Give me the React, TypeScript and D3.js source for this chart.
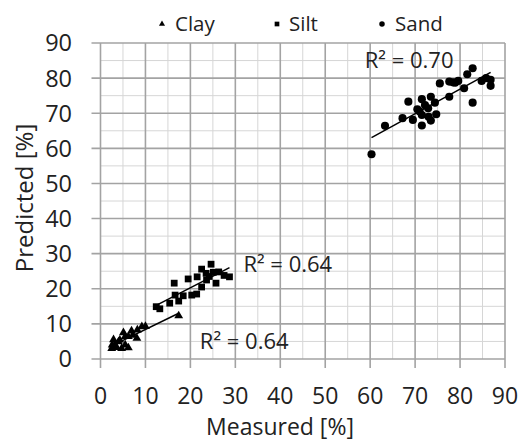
import React from "react";
import * as d3 from "d3";

// ---- data ----
const seriesNames = ["Clay", "Silt", "Sand"];

const clayX = [2.5, 2.6, 2.9, 3.2, 3.6, 4.0, 4.3, 4.7, 5.1, 5.5, 5.5, 6.2, 6.2, 6.9, 7.2, 8.1, 8.2, 9.2, 10.0, 17.4];
const clayY = [3.0, 4.0, 5.5, 4.0, 3.3, 4.9, 5.4, 3.0, 7.5, 4.0, 6.4, 3.2, 6.4, 8.0, 6.8, 5.9, 8.3, 9.2, 9.3, 12.3];

const siltX = [12.4, 13.2, 15.4, 16.4, 16.6, 17.4, 18.4, 19.5, 20.3, 21.4, 21.5, 22.5, 23.5, 23.6, 24.6, 25.1, 25.7, 26.3, 27.5, 28.7, 22.5, 24.2];
const siltY = [14.9, 14.3, 15.9, 21.6, 18.2, 16.5, 18.0, 22.8, 18.2, 18.5, 23.4, 25.6, 24.4, 22.5, 27.0, 24.7, 21.6, 24.8, 23.8, 23.4, 20.5, 23.5];

const sandX = [60.3, 63.3, 67.2, 68.5, 69.5, 70.5, 71.5, 71.5, 71.5, 72.2, 72.9, 73.5, 73.5, 74.4, 74.7, 75.5, 77.6, 77.6, 78.4, 78.9, 79.6, 80.9, 81.6, 82.8, 82.8, 84.8, 85.8, 86.8, 86.8, 71.0, 73.0];
const sandY = [58.3, 66.4, 68.6, 73.3, 68.1, 71.1, 74.0, 69.5, 66.5, 72.3, 71.4, 74.7, 67.9, 73.0, 69.7, 78.5, 74.7, 79.0, 78.8, 78.7, 79.2, 77.1, 81.1, 82.8, 73.0, 79.2, 80.0, 79.5, 77.8, 70.5, 69.0];

const r2Labels = ["R² = 0.64", "R² = 0.64", "R² = 0.70"];

const xTicks = [0, 10, 20, 30, 40, 50, 60, 70, 80, 90];
const yTicks = [0, 10, 20, 30, 40, 50, 60, 70, 80, 90];
const minorTicks = [5, 15, 25, 35, 45, 55, 65, 75, 85];

const xTitle = "Measured [%]";
const yTitle = "Predicted [%]";

// ---- layout ----
const W = 531;
const H = 442;
const PL = 100.5, PR = 505, PT = 43, PB = 359;
// label anchors in data units
const labelPos = [
  [22.1, 2.8],
  [31.8, 24.7],
  [58.8, 82.9],
];
const FONT = "'Open Sans', 'Noto Sans', sans-serif";
const TXT = "#222";

function regress(xs: number[], ys: number[]) {
  const mx = d3.mean(xs)!;
  const my = d3.mean(ys)!;
  let sxy = 0, sxx = 0;
  xs.forEach((x, i) => {
    sxy += (x - mx) * (ys[i] - my);
    sxx += (x - mx) * (x - mx);
  });
  const b = sxy / sxx;
  const a = my - b * mx;
  return { a, b, x0: d3.min(xs)!, x1: d3.max(xs)! };
}

export default function App() {
  const x = d3.scaleLinear().domain([0, 90]).range([PL, PR]);
  const y = d3.scaleLinear().domain([0, 90]).range([PB, PT]);

  const series = [
    { xs: clayX, ys: clayY, sym: d3.symbolTriangle, size: 34 },
    { xs: siltX, ys: siltY, sym: d3.symbolSquare, size: 46 },
    { xs: sandX, ys: sandY, sym: d3.symbolCircle, size: 52 },
  ];
  const legendSym = [
    { sym: d3.symbolTriangle, size: 16, x: 162, tx: 175 },
    { sym: d3.symbolSquare, size: 22, x: 277, tx: 289 },
    { sym: d3.symbolCircle, size: 24, x: 382, tx: 395 },
  ];

  return (
    <svg width={W} height={H} style={{ position: "absolute", left: 0, top: 0, background: "#fff" }}>
      <rect x={0} y={0} width={W} height={H} fill="#fff" />
      {/* minor grid */}
      <g stroke="#d6d6d6" strokeWidth={1}>
        {minorTicks.map((t) => (
          <line key={"mx" + t} x1={x(t)} x2={x(t)} y1={PT} y2={PB} />
        ))}
        {minorTicks.map((t) => (
          <line key={"my" + t} x1={PL} x2={PR} y1={y(t)} y2={y(t)} />
        ))}
      </g>
      {/* major grid */}
      <g stroke="#a3a3a3" strokeWidth={1.6}>
        {xTicks.map((t) => (
          <line key={"Mx" + t} x1={x(t)} x2={x(t)} y1={PT} y2={PB + 9} />
        ))}
        {yTicks.map((t) => (
          <line key={"My" + t} x1={PL - 9} x2={PR} y1={y(t)} y2={y(t)} />
        ))}
      </g>
      {/* tick labels */}
      <g fontFamily={FONT} fontSize={23.5} fill={TXT}>
        {yTicks.map((t) => (
          <text key={"yl" + t} x={72} y={y(t)} dy="0.36em" textAnchor="end">
            {t}
          </text>
        ))}
      </g>
      <g fontFamily={FONT} fontSize={23} fill={TXT}>
        {xTicks.map((t) => (
          <text key={"xl" + t} x={x(t)} y={403.5} textAnchor="middle">
            {t}
          </text>
        ))}
      </g>
      <g fontFamily={FONT} fontSize={23} fill={TXT}>
        <text x={280} y={435} textAnchor="middle">
          {xTitle}
        </text>
      </g>
      <g fontFamily={FONT} fontSize={24} fill={TXT}>
        <text transform={`translate(33,198) rotate(-90)`} textAnchor="middle">
          {yTitle}
        </text>
      </g>
      {/* legend */}
      <g fontFamily={FONT} fontSize={20.5} fill={TXT}>
        {seriesNames.map((n, i) => (
          <g key={n}>
            <path
              d={d3.symbol(legendSym[i].sym, legendSym[i].size)() || ""}
              transform={`translate(${legendSym[i].x},${24})`}
              fill="#000"
            />
            <text x={legendSym[i].tx} y={31}>
              {n}
            </text>
          </g>
        ))}
      </g>
      {/* points */}
      {series.map((s, si) => (
        <g key={"s" + si} fill="#000">
          {s.xs.map((v, i) => (
            <path
              key={i}
              d={d3.symbol(s.sym, s.size)() || ""}
              transform={`translate(${x(v)},${y(s.ys[i])})`}
            />
          ))}
        </g>
      ))}
      {/* trendlines */}
      {series.map((s, si) => {
        const r = regress(s.xs, s.ys);
        return (
          <line
            key={"t" + si}
            x1={x(r.x0)}
            y1={y(r.a + r.b * r.x0)}
            x2={x(r.x1)}
            y2={y(r.a + r.b * r.x1)}
            stroke="#000"
            strokeWidth={1.5}
          />
        );
      })}
      {/* R2 labels */}
      <g fontFamily={FONT} fontSize={22} fill={TXT}>
        {r2Labels.map((l, i) => (
          <text key={"r" + i} x={x(labelPos[i][0])} y={y(labelPos[i][1])}>
            {l}
          </text>
        ))}
      </g>
    </svg>
  );
}
